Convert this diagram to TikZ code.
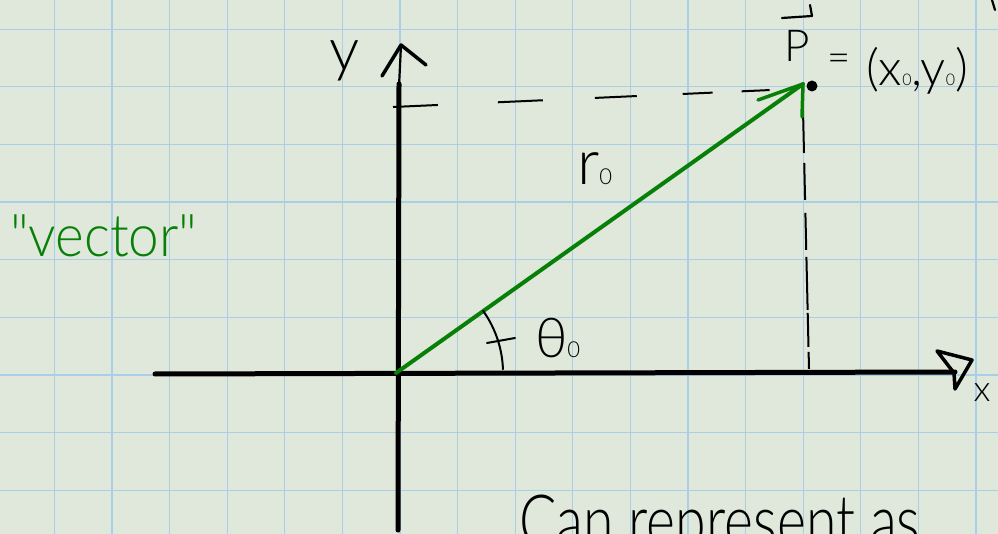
\documentclass[tikz,border=0pt]{standalone}
\usepackage{fontspec}
\newfontfamily\hw{Lato Light}
\definecolor{paper}{RGB}{223,232,219}
\definecolor{gridblue}{RGB}{168,207,230}
\definecolor{inkgreen}{RGB}{8,128,8}
\begin{document}
\begin{tikzpicture}[x=1pt,y=-1pt,
  axisline/.style={line width=5pt,line cap=round},
  inkline/.style={line width=2.2pt,line cap=round,line join=round},
  barb/.style={line width=3.5pt,line cap=round,line join=round},
  vecline/.style={line width=4pt,line cap=round,line join=round,draw=inkgreen},
  gridline/.style={draw=gridblue,line width=1.2pt},
  lbl/.style={inner sep=0pt,outer sep=0pt}]
\useasboundingbox (0,0) rectangle (998,534);
\fill[paper] (0,0) rectangle (998,534);
\foreach \i in {0,...,16} \draw[gridline] ({54.3+57.6*\i},0) -- ({54.3+57.6*\i},534);
\foreach \j in {0,...,8} \draw[gridline] (0,{29.3+57.6*\j}) -- (998,{29.3+57.6*\j});

\coordinate (O) at (396,373);
\coordinate (xL) at (155,374);
\coordinate (xR) at (955,372);
\coordinate (yB) at (398,530);
\coordinate (yT) at (399,84);
\coordinate (yTip) at (401,45);
\coordinate (P) at (803,84);
\coordinate (Pdot) at (812,86);
\coordinate (hd1) at (393,107);
\coordinate (hd2) at (771,90);
\coordinate (vd1) at (803,110);
\coordinate (vd2) at (809,369);

% axes
\draw[axisline] (xL) -- (xR);
\draw[axisline] (yB) -- (yT);
\draw[inkline] (yTip) -- (398,107);
\draw[barb] (382,76) -- (yTip) -- (426,65);
\draw[barb] (955,389) -- (954,373) -- (937,351) -- (972,360) -- (955,389);

% projections
\draw[line width=2pt,dash pattern=on 45pt off 60pt on 45pt off 52pt on 42pt off 46pt on 30pt off 29pt on 28pt off 200pt] (hd1) -- (hd2);
\draw[line width=2pt,dash pattern=on 43pt off 10pt on 37pt off 13pt on 37pt off 7pt on 53pt off 3pt on 34pt off 5pt on 17pt off 200pt] (vd1) -- (vd2);

% point and vector
\fill (Pdot) circle (5.5);
\draw[vecline] (O) -- (P);
\draw[vecline,line width=3.5pt] (758,100) -- (P) -- (802,117);

% angle
\draw[inkline,line width=2pt] plot[domain=35.5:2,samples=30,smooth] ({396+107*cos(\x)},{373-107*sin(\x)});
\draw[inkline,line width=2pt] (487,343) -- (515,338);

% arrow over P
\draw[inkline] (810,5) -- (812,16) -- (782,18);
\draw[inkline] (992,0) -- (995,10);

% labels
\node[lbl] (ylab) at (345,61) {\hw\fontsize{60}{60}\selectfont y};
\node[lbl] (xlab) at (982,393) {\hw\fontsize{36}{36}\selectfont x};
\node[lbl,anchor=base west] (rlab) at (577,185) {\hw\fontsize{63}{63}\selectfont r\fontsize{22}{22}\selectfont 0};
\node[lbl,anchor=base west] (thlab) at (535,357) {\hw\fontsize{55}{55}\selectfont θ\fontsize{22}{22}\selectfont 0};
\node[lbl,anchor=base west] (Plab) at (784,62) {\hw\fontsize{44}{44}\selectfont P};
\node[lbl] (eq) at (839,63) {\hw\fontsize{40}{40}\selectfont =};
\node[lbl,anchor=base west] (coord) at (866,86) {\hw\fontsize{50}{50}\selectfont (x{\fontsize{16}{16}\selectfont 0},y{\fontsize{16}{16}\selectfont 0})};
\node[lbl,anchor=base west,text=inkgreen] (vec) at (10,257) {\hw\fontsize{59}{59}\selectfont\scalebox{0.93}[1]{"vector"}};
\node[lbl,anchor=base west] (can) at (519,546) {\hw\fontsize{72}{72}\selectfont\scalebox{0.77}[1]{Can represent as}};
\end{tikzpicture}
\end{document}
